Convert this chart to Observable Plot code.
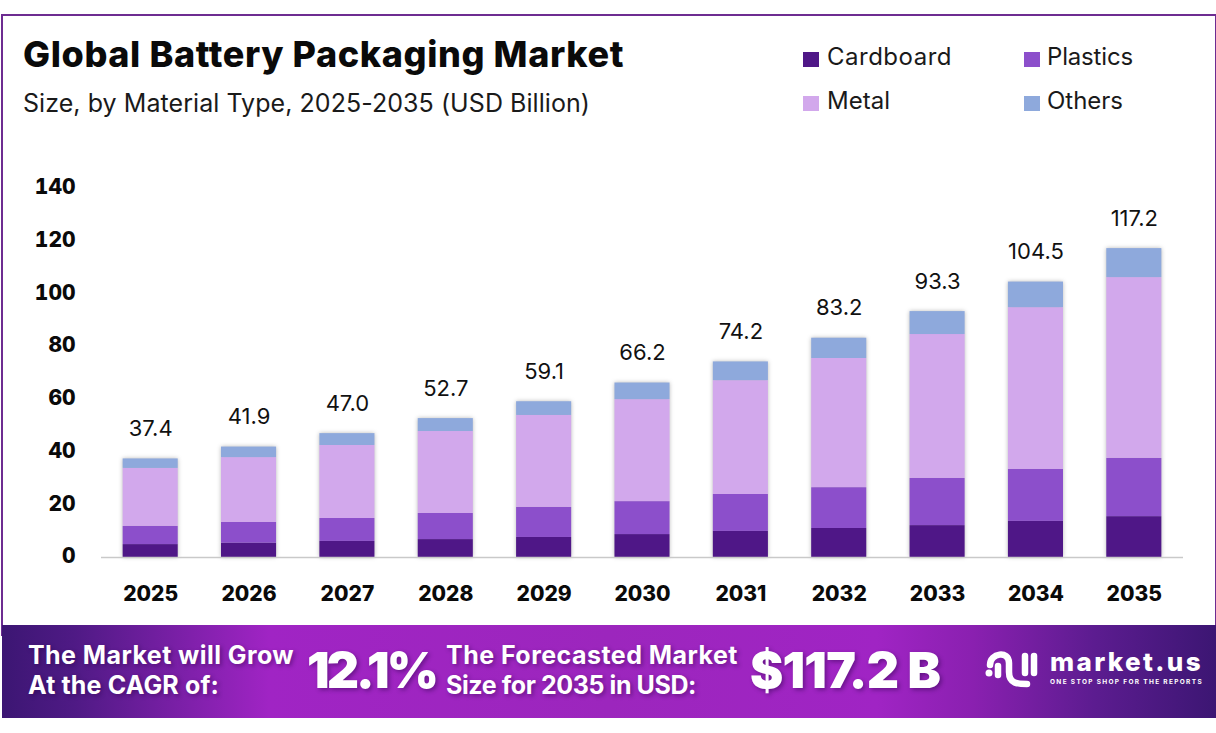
<!DOCTYPE html>
<html>
<head>
<meta charset="utf-8">
<script src="https://cdn.jsdelivr.net/npm/d3@7"></script>
<script src="https://cdn.jsdelivr.net/npm/@observablehq/plot@0.6"></script>
<style>
html,body{margin:0;padding:0;background:#fff;}
body{width:1216px;height:733px;position:relative;overflow:hidden;font-family:Inter,sans-serif;color:#111;}
.abs{position:absolute;white-space:nowrap;line-height:1;}
#frame{position:absolute;left:1px;top:14px;width:1212px;height:620px;border:2px solid #6d2c91;border-bottom:none;box-sizing:content-box;}
#chart{position:absolute;left:0;top:140px;}
#banner{position:absolute;left:2px;top:625px;width:1214px;height:93px;background:linear-gradient(90deg,#3c1673 0%,#4f1a85 6%,#a024c4 22%,#9c26bd 50%,#a024c4 72%,#8a20b0 80%,#5c1c90 90%,#3c1673 100%);}
.sw{position:absolute;width:16px;height:15px;}
.ban{color:#fff;font-weight:800;text-shadow:2px 2px 4px rgba(40,0,70,.45);}
</style>
</head>
<body>
<div id="frame"></div>
<div class="abs" data-w="601" style="left:23px;top:36px;font-size:36px;font-weight:800;color:#0a0a0a;">Global Battery Packaging Market</div>
<div class="abs" data-w="567" style="left:23px;top:91px;font-size:25px;font-weight:400;color:#1a1a1a;">Size, by Material Type, 2025-2035 (USD Billion)</div>
<div id="legend"></div>
<div id="chart"></div>
<div id="banner"></div>
<div class="abs ban" data-w="266" style="left:28px;top:643px;font-size:25px;font-weight:700;">The Market will Grow</div>
<div class="abs ban" data-w="191" style="left:28px;top:673px;font-size:25px;font-weight:700;">At the CAGR of:</div>
<div class="abs ban" data-w="129" style="left:307px;top:645px;font-size:50px;font-weight:900;">12.1%</div>
<div class="abs ban" data-w="292" style="left:446px;top:643px;font-size:25px;font-weight:700;">The Forecasted Market</div>
<div class="abs ban" data-w="250" style="left:446px;top:673px;font-size:25px;font-weight:700;">Size for 2035 in USD:</div>
<div class="abs ban" data-w="190" style="left:750px;top:645px;font-size:50px;font-weight:900;">$117.2 B</div>
<svg class="abs" style="left:984px;top:648px" width="60" height="46" viewBox="0 0 60 46" fill="none" stroke="#fff" stroke-width="6.5" stroke-linecap="round">
<circle cx="5" cy="25" r="3.5" fill="#fff" stroke="none"/>
<path d="M6 17 C6 5 25 2 25 15 L25 24 C25 36 34 36 43 36"/>
<path d="M41 8 L41 25"/>
<path d="M50 8 L50 25"/>
<path d="M14 18 L14 27"/>
</svg>
<div class="abs" data-w="153" style="left:1050px;top:649px;font-size:26px;font-weight:800;color:#fff;">market.us</div>
<div class="abs" data-w="153" style="left:1050px;top:679px;font-size:6.5px;font-weight:700;color:#fff;">ONE STOP SHOP FOR THE REPORTS</div>
<script>
const years = ["2025","2026","2027","2028","2029","2030","2031","2032","2033","2034","2035"];
const cardboard = [4.9,5.4,6.1,6.8,7.6,8.7,9.9,11.0,12.1,13.7,15.5];
const plastics = [6.9,7.9,8.7,9.9,11.4,12.5,14.0,15.5,17.9,19.7,22.1];
const metal = [22.0,24.6,27.7,31.1,34.9,38.7,43.2,49.0,54.6,61.4,68.6];
const others = [3.6,4.0,4.5,4.9,5.2,6.3,7.1,7.7,8.7,9.7,11.0];
const totals = [37.4,41.9,47.0,52.7,59.1,66.2,74.2,83.2,93.3,104.5,117.2];
const totalLabels = ["37.4","41.9","47.0","52.7","59.1","66.2","74.2","83.2","93.3","104.5","117.2"];
const materials = ["Cardboard","Plastics","Metal","Others"];
const colors = ["#4f1787","#8c4fcb","#d2a8ec","#8ea9dc"];
const yTicks = [0,20,40,60,80,100,120,140];

const series = [cardboard,plastics,metal,others];
const rows = materials.flatMap((m,i)=>years.map((yr,j)=>({year:yr,material:m,value:series[i][j]})));
const labels = years.map((yr,j)=>({year:yr,total:totals[j],label:totalLabels[j]}));

const plot = Plot.plot({
  width:1216,height:480,
  marginLeft:101,marginRight:33,marginTop:48,marginBottom:63,
  style:{background:"transparent",overflow:"visible"},
  x:{domain:years,paddingInner:0.44,paddingOuter:0.22,align:0.5,round:false,label:null},
  y:{domain:[0,140],label:null},
  color:{domain:materials,range:colors},
  marks:[
    Plot.barY(rows,{x:"year",y:"value",fill:"material",order:materials,imageFilter:"drop-shadow(0 0 2px rgba(0,0,0,.28))"}),
    Plot.ruleY([0],{stroke:"#c9c9c9",strokeWidth:1.5}),
    Plot.text(labels,{x:"year",y:"total",text:"label",dy:-30,fontSize:22,fill:"#111",fontFamily:"Inter, sans-serif"}),
    Plot.axisY({ticks:yTicks,tickSize:0,tickPadding:0,dx:-26,dy:-1,fontSize:21,fontWeight:800,fill:"#0a0a0a",fontFamily:"Inter, sans-serif",label:null}),
    Plot.axisX({tickSize:0,tickPadding:29,fontSize:21,fontWeight:800,fill:"#0a0a0a",fontFamily:"Inter, sans-serif",label:null})
  ]
});
document.getElementById("chart").appendChild(plot);

const legend = document.getElementById("legend");
const pos = [[803,52,827,125],[1024,52,1047,86],[803,96,827,63],[1024,96,1047,76]];
materials.forEach((m,i)=>{
  const [sx,sy,tx,tw] = pos[i];
  const s = document.createElement("div"); s.className="sw";
  s.style.cssText=`left:${sx}px;top:${sy}px;background:${colors[i]}`;
  legend.appendChild(s);
  const t = document.createElement("div"); t.className="abs"; t.textContent=m; t.dataset.w=tw;
  t.style.cssText=`left:${tx}px;top:${sy-7}px;font-size:24px;color:#1a1a1a`;
  legend.appendChild(t);
});
document.querySelectorAll("[data-w]").forEach(el=>{
  const n = el.textContent.length;
  const w = el.getBoundingClientRect().width;
  el.style.letterSpacing = ((+el.dataset.w - w)/n).toFixed(3)+"px";
});
</script>
</body>
</html>
